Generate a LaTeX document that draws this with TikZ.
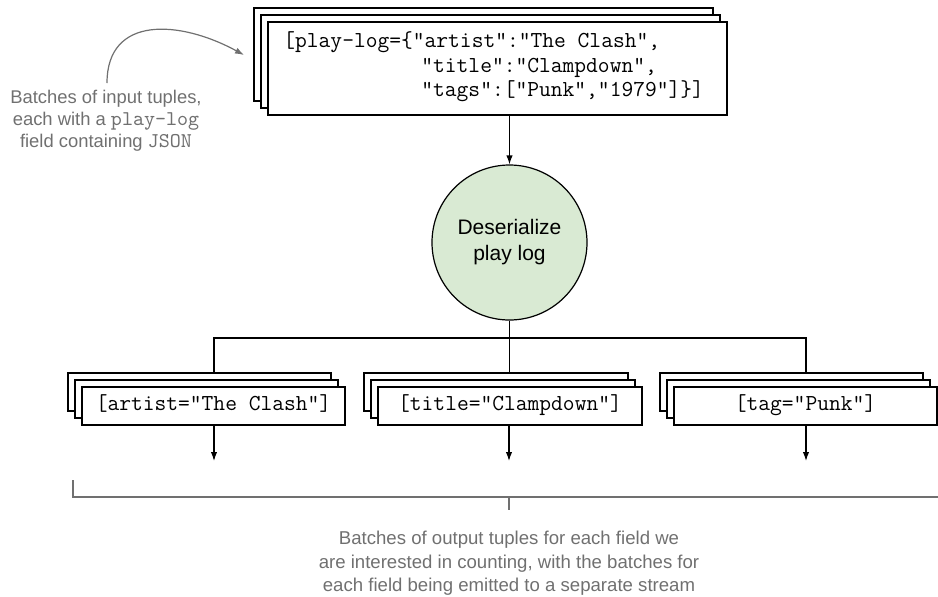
\documentclass[tikz,border=0pt]{standalone}
\usepackage{fontspec}
\setmainfont{Liberation Sans}
\newcommand\monof{\ttfamily}
\usetikzlibrary{arrows.meta}
\definecolor{annot}{RGB}{112,112,112}
\definecolor{circfill}{RGB}{217,234,211}
\tikzset{
  box/.style={draw=black, fill=white, line width=0.6pt, inner sep=0pt, rectangle},
  bigbox/.style={box, minimum width=229.5pt, minimum height=46.5pt},
  smallbox/.style={box, minimum width=131.5pt, minimum height=19pt},
  monotxt/.style={font=\monof\fontsize{11.43}{12.25}\selectfont, inner sep=0pt},
  conn/.style={line width=0.6pt, draw=black},
  arr/.style={conn, -{Latex[length=4.5pt,width=3.2pt]}},
  annline/.style={line width=0.6pt, draw=annot},
  anntxt/.style={text=annot, font=\fontsize{9.2}{11}\selectfont, align=center, inner sep=0pt},
}
\begin{document}
\begin{tikzpicture}[x=0.5pt,y=-0.5pt]
\useasboundingbox (0,0) rectangle (938,596);

% top stack
\node[bigbox] (topback) at (483.5,54.5) {};
\node[bigbox] (topmid) at (490.5,61.5) {};
\node[bigbox] (topfront) at (497.5,68.5) {};
\node[monotxt, anchor=west, align=left] (toptext) at (283,67.5)
  {\strut[play-log=\{"artist":"The Clash",\\
   \hspace*{69pt}\strut"title":"Clampdown",\\
   \hspace*{69pt}\strut"tags":["Punk","1979"]\}]};

% circle
\node[circle, draw=black, fill=circfill, line width=0.6pt, minimum size=77.5pt, inner sep=0pt,
      align=center, font=\fontsize{10.5}{13}\selectfont] (deser) at (509.5,242.5) {Deserialize\\play log};

\draw[arr] (topfront.south -| deser.north) -- (deser.north);

% output stacks
\node[smallbox] (aback) at (199.5,392) {};
\node[smallbox] (amid) at (206.5,399) {};
\node[smallbox] (afront) at (213.5,406) {};
\node[monotxt] (atext) at (afront.center) {\strut[artist="The Clash"]};

\node[smallbox, minimum width=132pt] (tback) at (496,392) {};
\node[smallbox, minimum width=132pt] (tmid) at (503,399) {};
\node[smallbox, minimum width=132pt] (tfront) at (510,406) {};
\node[monotxt] (ttext) at (tfront.center) {\strut[title="Clampdown"]};

\node[smallbox] (gback) at (791.5,392) {};
\node[smallbox] (gmid) at (798.5,399) {};
\node[smallbox] (gfront) at (805.5,406) {};
\node[monotxt] (gtext) at (gfront.center) {\strut[tag="Punk"]};

% bus
\coordinate (busl) at (214,338);
\coordinate (busr) at (806,338);
\draw[conn] (deser.south) -- (deser.south |- tback.north);
\draw[conn] (aback.north -| busl) -- (busl) -- (busr) -- (gback.north -| busr);

% output arrows
\coordinate (ea) at (214,461);
\coordinate (et) at (509,461);
\coordinate (eg) at (806,461);
\draw[arr] (afront.south -| ea) -- (ea);
\draw[arr] (tfront.south -| et) -- (et);
\draw[arr] (gfront.south -| eg) -- (eg);

% bottom bracket
\coordinate (bl) at (73,480);
\coordinate (bc) at (73,497);
\coordinate (br) at (938,497);
\coordinate (bm) at (509,497);
\coordinate (bt) at (509,510);
\draw[annline] (bl) -- (bc) -- (br);
\draw[annline] (bm) -- (bt);
\node[anntxt, font=\fontsize{9.3}{11.75}\selectfont] (outlbl) at (509,563.5)
  {Batches of output tuples for each field we\\
   are interested in counting, with the batches for\\
   each field being emitted to a separate stream};

% top-left annotation
\node[anntxt] (inlbl) at (106,121)
  {Batches of input tuples,\\
   each with a {\monof\fontsize{10.5}{11}\selectfont play-log}\\
   field containing {\monof\fontsize{10.5}{11}\selectfont JSON}};
\coordinate (cs) at (107,83);
\coordinate (ce) at (244,55);
\draw[annline, -{Latex[length=4.5pt,width=3.2pt]}] (cs) .. controls (107,15) and (180,20) .. (ce);
\end{tikzpicture}
\end{document}
